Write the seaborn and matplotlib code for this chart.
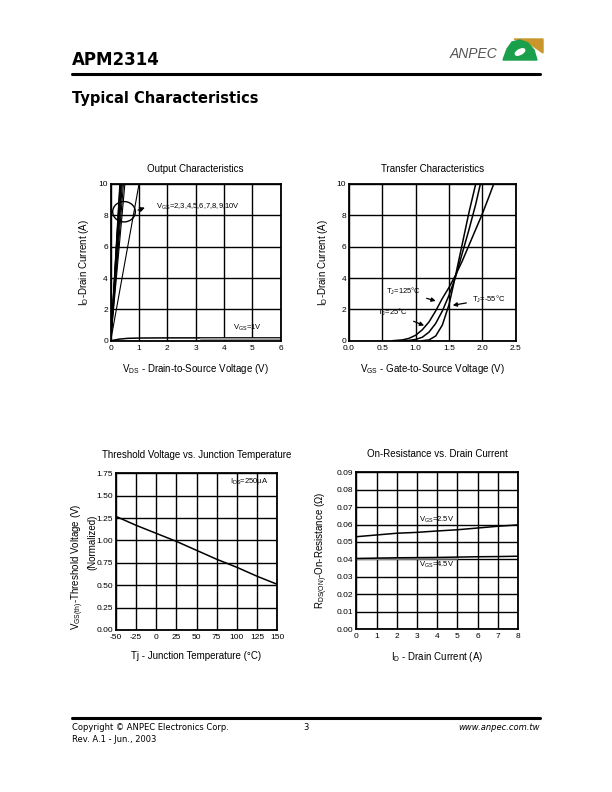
import numpy as np
import matplotlib
matplotlib.use("Agg")
import matplotlib.pyplot as plt
import seaborn as sns
from matplotlib.patches import Ellipse, Polygon

sns.set_style("white")
plt.rcParams['font.family'] = ['Liberation Sans', 'DejaVu Sans']
plt.rcParams['text.color'] = 'black'
plt.rcParams['axes.labelcolor'] = 'black'
plt.rcParams['xtick.color'] = 'black'
plt.rcParams['ytick.color'] = 'black'

# Output characteristics: VGS = 2..10 V curves (VDS, ID), and VGS = 1 V
out_vgs = [2, 3, 4, 5, 6, 7, 8, 9, 10]
out_vds_end = [1.0, 0.50, 0.45, 0.41, 0.38, 0.36, 0.34, 0.33, 0.32]
out_id = [0, 5, 10]
vgs1_vds = [0, 0.3, 0.6, 1, 2, 3, 4, 5, 6]
vgs1_id = [0, 0.10, 0.15, 0.17, 0.18, 0.18, 0.18, 0.18, 0.18]

# Transfer characteristics
tj_m55_vgs = [1.1, 1.2, 1.3, 1.4, 1.5, 1.6, 1.7, 1.8, 1.9]
tj_m55_id = [0, 0.05, 0.3, 1.0, 2.3, 4.2, 6.2, 8.2, 10]
tj_25_vgs = [0.8, 0.9, 1.0, 1.1, 1.2, 1.3, 1.4, 1.5, 1.6, 1.7, 1.8, 1.9, 1.97]
tj_25_id = [0, 0.02, 0.08, 0.22, 0.55, 1.1, 1.9, 2.9, 4.1, 5.6, 7.1, 8.7, 10]
tj_125_vgs = [0.65, 0.8, 0.9, 1.0, 1.1, 1.2, 1.3, 1.4, 1.5, 1.6, 1.7, 1.8, 1.9, 2.0, 2.1, 2.17]
tj_125_id = [0, 0.05, 0.15, 0.35, 0.7, 1.2, 1.9, 2.7, 3.4, 4.2, 5.1, 6.1, 7.1, 8.1, 9.2, 10]

# Threshold voltage vs junction temperature
tj_temp = [-50, -25, 0, 25, 50, 75, 100, 125, 150]
vth_norm = [1.27, 1.17, 1.08, 0.99, 0.89, 0.79, 0.70, 0.60, 0.51]

# On-resistance vs drain current
rds_id = [0, 1, 2, 3, 4, 5, 6, 7, 8]
rds_25 = [0.053, 0.054, 0.055, 0.0555, 0.0563, 0.057, 0.058, 0.059, 0.0598]
rds_45 = [0.0405, 0.0407, 0.0409, 0.041, 0.0411, 0.0413, 0.0415, 0.0416, 0.0418]

fig = plt.figure(figsize=(6.12, 7.92), dpi=100)


def px_ax(left, top, right, bottom):
    return fig.add_axes([left / 612, 1 - bottom / 792, (right - left) / 612, (bottom - top) / 792])


def style_ax(ax, xlim, ylim, xticks, yticks, xfmt, yfmt):
    ax.set_xlim(*xlim)
    ax.set_ylim(*ylim)
    ax.set_xticks(xticks)
    ax.set_yticks(yticks)
    ax.set_xticklabels([xfmt.format(v) for v in xticks])
    ax.set_yticklabels([yfmt.format(v) for v in yticks])
    ax.grid(True, color="black", lw=1.0)
    ax.tick_params(length=0, labelsize=6)
    ax.tick_params(axis="x", pad=3)
    ax.tick_params(axis="y", pad=2)
    for s in ax.spines.values():
        s.set_color("black")
        s.set_linewidth(1.3)
    ax.set_axisbelow(True)


lw = 1.1

# --- Output characteristics ---
ax1 = px_ax(110.7, 184, 280.7, 340.7)
for v, e in zip(out_vgs, out_vds_end):
    sns.lineplot(x=[0, e / 2, e], y=out_id, ax=ax1, color="black", lw=0.8, estimator=None)
sns.lineplot(x=vgs1_vds, y=vgs1_id, ax=ax1, color="black", lw=lw, estimator=None)
sns.lineplot(x=[3.2, 6], y=[0.08, 0.08], ax=ax1, color="#999999", lw=1.5, estimator=None)
style_ax(ax1, (0, 6), (0, 10), range(0, 7), range(0, 11, 2), "{}", "{}")
ax1.add_patch(Ellipse((0.47, 8.23), 0.8, 1.3, fill=False, ec="black", lw=1.0))
ax1.annotate("", xy=(1.3, 8.55), xytext=(0.87, 8.27),
             arrowprops=dict(arrowstyle="-|>", color="black", lw=0.9, mutation_scale=7))
ax1.text(1.6, 8.55, r"$\mathregular{V_{GS}}$=2,3,4,5,6,7,8,9,10V", fontsize=5.5, va="center")
ax1.text(4.3, 0.8, r"$\mathregular{V_{GS}}$=1V", fontsize=5.5, va="center")
ax1.set_title("Output Characteristics", fontsize=7, pad=9)
ax1.set_xlabel(r"$\mathregular{V_{DS}}$ - Drain-to-Source Voltage (V)", fontsize=7, labelpad=7)
ax1.set_ylabel(r"$\mathregular{I_D}$-Drain Current (A)", fontsize=7, labelpad=5)

# --- Transfer characteristics ---
ax2 = px_ax(349, 184, 515.7, 340.7)
for xs, ys in [(tj_m55_vgs, tj_m55_id), (tj_25_vgs, tj_25_id), (tj_125_vgs, tj_125_id)]:
    sns.lineplot(x=xs, y=ys, ax=ax2, color="black", lw=lw, estimator=None)
style_ax(ax2, (0, 2.5), (0, 10), [0, 0.5, 1.0, 1.5, 2.0, 2.5], range(0, 11, 2), "{:.1f}", "{}")
arr = dict(arrowstyle="-|>", color="black", lw=0.9, mutation_scale=6)
ax2.annotate(r"$\mathregular{T_J}$=125°C", xy=(1.34, 2.49), xytext=(0.55, 3.13),
             fontsize=5.5, va="center", arrowprops=arr)
ax2.annotate(r"$\mathregular{T_J}$=25°C", xy=(1.165, 0.9), xytext=(0.42, 1.79),
             fontsize=5.5, va="center", arrowprops=arr)
ax2.annotate(r"$\mathregular{T_J}$=-55°C", xy=(1.515, 2.23), xytext=(1.85, 2.66),
             fontsize=5.5, va="center", arrowprops=arr)
ax2.set_title("Transfer Characteristics", fontsize=7, pad=9)
ax2.set_xlabel(r"$\mathregular{V_{GS}}$ - Gate-to-Source Voltage (V)", fontsize=7, labelpad=7)
ax2.set_ylabel(r"$\mathregular{I_D}$-Drain Current (A)", fontsize=7, labelpad=5)

# --- Threshold voltage vs junction temperature ---
ax3 = px_ax(115.7, 473.3, 277.3, 630)
sns.lineplot(x=tj_temp, y=vth_norm, ax=ax3, color="black", lw=lw, estimator=None)
style_ax(ax3, (-50, 150), (0, 1.75), range(-50, 151, 25), np.arange(0, 1.76, 0.25), "{}", "{:.2f}")
ax3.text(92, 1.657, r"$\mathregular{I_{DS}}$=250µA", fontsize=5.5, va="center")
ax3.set_title("Threshold Voltage vs. Junction Temperature", fontsize=7, pad=11)
ax3.set_xlabel("Tj - Junction Temperature (°C)", fontsize=7, labelpad=7)
fig.text(78 / 612, 1 - 567 / 792, r"$\mathregular{V_{GS(th)}}$-Threshold Voltage (V)",
         rotation=90, fontsize=7, ha="center", va="center")
fig.text(92 / 612, 1 - 542 / 792, "(Normalized)", rotation=90, fontsize=7, ha="center", va="center")

# --- On-resistance vs drain current ---
ax4 = px_ax(356.3, 472.3, 518, 629)
sns.lineplot(x=rds_id, y=rds_25, ax=ax4, color="black", lw=lw, estimator=None)
sns.lineplot(x=[0, 5], y=[0.0402, 0.0405], ax=ax4, color="#999999", lw=1.5, estimator=None)
sns.lineplot(x=rds_id, y=rds_45, ax=ax4, color="black", lw=lw, estimator=None)
style_ax(ax4, (0, 8), (0, 0.09), range(0, 9), np.arange(0, 0.091, 0.01), "{}", "{:.2f}")
ax4.text(3.1, 0.0626, r"$\mathregular{V_{GS}}$=2.5V", fontsize=5.5, va="center")
ax4.text(3.1, 0.0368, r"$\mathregular{V_{GS}}$=4.5V", fontsize=5.5, va="center")
ax4.set_title("On-Resistance vs. Drain Current", fontsize=7, pad=11)
ax4.set_xlabel(r"$\mathregular{I_D}$ - Drain Current (A)", fontsize=7, labelpad=7)
ax4.set_ylabel(r"$\mathregular{R_{DS(ON)}}$-On-Resistance (Ω)", fontsize=7, labelpad=5)

# --- page header / footer ---
def fx(x):
    return x / 612


def fy(y):
    return 1 - y / 792


fig.text(fx(72), fy(60), "APM2314", fontsize=12, fontweight="bold", family="DejaVu Sans",
         va="center")
fig.add_artist(plt.Line2D([fx(72), fx(540)], [fy(74), fy(74)], color="black", lw=2.2))
fig.text(fx(72), fy(99), "Typical Characteristics", fontsize=10.5, fontweight="bold",
         family="DejaVu Sans", va="center")
fig.text(fx(497), fy(54), "ANPEC", fontsize=10, style="italic", color="#555555", ha="right",
         va="center")
gold = Polygon([(fx(514), fy(39)), (fx(543), fy(39)), (fx(543), fy(53)), (fx(530), fy(44))],
               closed=True, transform=fig.transFigure, color="#c8962a")
green = Polygon([(fx(503), fy(60)), (fx(507), fy(49)), (fx(512), fy(42)), (fx(520), fy(40)),
                 (fx(528), fy(43)), (fx(534), fy(50)), (fx(537), fy(60))],
                closed=True, transform=fig.transFigure, color="#1aa04a")
fig.add_artist(gold)
fig.add_artist(green)
fig.add_artist(Ellipse((fx(520), fy(52)), 10 / 612, 5 / 792, angle=20,
                       transform=fig.transFigure, color="white"))

fig.add_artist(plt.Line2D([fx(72), fx(540)], [fy(718), fy(718)], color="black", lw=2.2))
fig.text(fx(72), fy(727), "Copyright © ANPEC Electronics Corp.", fontsize=6, family="DejaVu Sans",
         va="center")
fig.text(fx(303), fy(727), "3", fontsize=6, family="DejaVu Sans", va="center")
fig.text(fx(540), fy(727), "www.anpec.com.tw", fontsize=6, family="DejaVu Sans", style="italic",
         ha="right", va="center")
fig.text(fx(72), fy(740), "Rev. A.1 - Jun., 2003", fontsize=6, family="DejaVu Sans", va="center")

fig.savefig("out.png", dpi=100)
